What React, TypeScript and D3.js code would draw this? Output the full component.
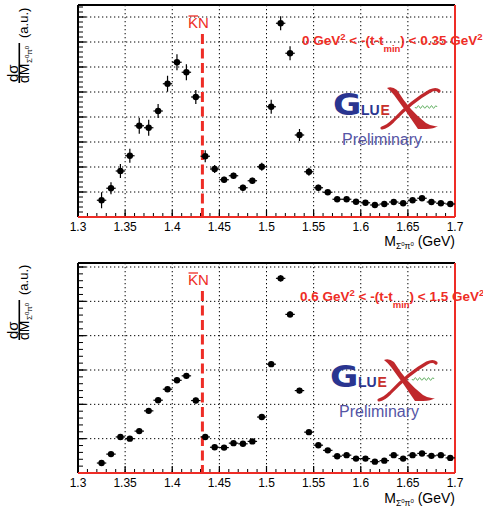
import React from "react";
import * as d3 from "d3";

const masses = [1.325,1.335,1.345,1.355,1.365,1.375,1.385,1.395,1.405,1.415,1.425,1.435,1.445,1.455,1.465,1.475,1.485,1.495,1.505,1.515,1.525,1.535,1.545,1.555,1.565,1.575,1.585,1.595,1.605,1.615,1.625,1.635,1.645,1.655,1.665,1.675,1.685,1.695];
const lowTValues = [0.67,1.15,1.84,2.45,3.65,3.57,4.24,5.33,6.19,5.79,4.80,2.43,1.92,1.49,1.65,1.17,1.45,2.01,4.41,7.75,6.55,3.28,1.81,1.17,0.99,0.71,0.71,0.61,0.57,0.48,0.52,0.60,0.55,0.67,0.75,0.60,0.55,0.52];
const lowTErrors = [0.32,0.24,0.28,0.28,0.32,0.32,0.28,0.32,0.32,0.32,0.28,0.24,0.16,0.12,0.12,0.12,0.12,0.16,0.28,0.28,0.28,0.24,0.16,0.12,0.08,0.08,0.08,0.08,0.08,0.08,0.08,0.08,0.08,0.08,0.08,0.08,0.08,0.08];
const highTValues = [0.29,0.55,1.05,1.00,1.22,1.81,2.12,2.44,2.70,2.83,2.11,1.05,0.75,0.74,0.87,0.85,0.92,1.63,3.17,5.67,4.62,2.40,1.19,0.81,0.66,0.49,0.52,0.42,0.42,0.33,0.36,0.52,0.42,0.52,0.57,0.50,0.52,0.44];
const highTErrors = [0.06,0.06,0.07,0.07,0.07,0.08,0.08,0.08,0.08,0.08,0.08,0.07,0.06,0.06,0.06,0.06,0.06,0.07,0.08,0.09,0.09,0.08,0.06,0.06,0.05,0.05,0.05,0.05,0.05,0.05,0.05,0.05,0.05,0.05,0.05,0.05,0.05,0.05];
const xTicks = [1.3,1.35,1.4,1.45,1.5,1.55,1.6,1.65,1.7];
const binWidth = 0.01;
const kNThreshold = 1.432;

const RED = "#ee2d26";
const FONT = "'Liberation Sans', Arial, Helvetica, sans-serif";

const xScale = d3.scaleLinear().domain([1.3, 1.7]).range([78, 455]);

function GlueXLogo({ x, y }: { x: number; y: number }) {
  const wave: [number, number][] = [];
  for (let i = 0; i <= 44; i++) {
    const t = i / 44;
    wave.push([82 + t * 22, -8 + Math.sin(t * Math.PI * 10) * 1.3]);
  }
  return (
    <g transform={`translate(${x},${y})`}>
      <text x={0} y={0} fontFamily="'DejaVu Sans', sans-serif" fontWeight="bold" fontSize={30} fill="#2a3590" transform="scale(1.15,1)">G</text>
      <text x={28} y={0} fontFamily={FONT} fontWeight="bold" fontSize={14} fill="#2a3590">LU</text>
      <text x={47.5} y={0} fontFamily={FONT} fontWeight="bold" fontSize={14} fill="#c8302c">E</text>
      <path d="M 54 -27 Q 59 -29 64 -25 Q 77 -4 93 8 Q 99 12 105 11 Q 101 14 93 14 L 85 14 Q 73 -4 61 -20 Q 58 -24 54 -27 Z" fill="#c0282c" />
      <path d="M 49 13 Q 54 12 60 6 Q 79 -14 97 -24 Q 103 -27 106 -24" fill="none" stroke="#c0282c" strokeWidth={3.2} strokeLinecap="round" />
      <path d={d3.line()(wave) || ""} fill="none" stroke="#3a9a3a" strokeWidth={0.8} />
      <text x={9} y={30} fontFamily={FONT} fontSize={16} fill="#5555a5">Preliminary</text>
    </g>
  );
}

function Panel({ values, errors, yMax, yTop, bottom, top, frameTop, lowLabel, highLabel, titleBaseline, labelBaseline }: any) {
  const yScale = d3.scaleLinear().domain([0, yMax]).range([bottom, top]);
  const yFrameMax = yScale.invert(frameTop);
  const majorY = d3.range(0, Math.floor(yFrameMax) + 1);
  const minorY = d3.range(0, yFrameMax, 0.2);
  const minorX = d3.range(1.3, 1.7001, 0.01);
  const x0 = xScale(1.3), x1 = xScale(1.7);
  const threshX = xScale(kNThreshold);
  return (
    <g>
      {xTicks.slice(1, -1).map((t) => (
        <line key={"gx" + t} x1={xScale(t)} x2={xScale(t)} y1={frameTop} y2={bottom} stroke="#000" strokeWidth={1} strokeDasharray="1.3 2.7" />
      ))}
      {majorY.slice(1).map((t) => (
        <line key={"gy" + t} x1={x0} x2={x1} y1={yScale(t)} y2={yScale(t)} stroke="#000" strokeWidth={1} strokeDasharray="1.3 2.7" />
      ))}
      {minorY.map((t, i) => (
        <line key={"my" + i} x1={x0} x2={x0 + 5} y1={yScale(t)} y2={yScale(t)} stroke="#000" strokeWidth={1} />
      ))}
      {majorY.map((t) => (
        <line key={"My" + t} x1={x0} x2={x0 + 8} y1={yScale(t)} y2={yScale(t)} stroke="#000" strokeWidth={1.2} />
      ))}
      {minorX.map((t, i) => (
        <line key={"mx" + i} x1={xScale(t)} x2={xScale(t)} y1={bottom} y2={bottom - 4} stroke="#000" strokeWidth={1} />
      ))}
      {xTicks.map((t) => (
        <line key={"Mx" + t} x1={xScale(t)} x2={xScale(t)} y1={bottom} y2={bottom - 7} stroke="#000" strokeWidth={1.2} />
      ))}
      <line x1={x0} x2={x0} y1={frameTop} y2={bottom} stroke="#000" strokeWidth={2} />
      <line x1={x0} x2={x1} y1={frameTop} y2={frameTop} stroke="#000" strokeWidth={2} />
      <line x1={x1} x2={x1} y1={frameTop} y2={bottom} stroke={RED} strokeWidth={2} />
      <line x1={x0} x2={x1} y1={bottom} y2={bottom} stroke={RED} strokeWidth={2} />
      {xTicks.map((t) => (
        <text key={"lx" + t} x={xScale(t)} y={labelBaseline} textAnchor="middle" fontFamily={FONT} fontSize={12}>{String(t)}</text>
      ))}
      <text x={x1} y={titleBaseline} textAnchor="end" fontFamily={FONT} fontSize={14}>
        M<tspan fontSize={8.5} dy={3}>Σ</tspan><tspan fontSize={6} dy={-3}>0</tspan><tspan fontSize={8.5} dy={3}>π</tspan><tspan fontSize={6} dy={-3}>0</tspan><tspan> (GeV)</tspan>
      </text>
      <g transform={`translate(0,${yTop}) rotate(-90)`} fontFamily={FONT}>
        <text x={1} y={17.5} fontSize={15}>dσ</text>
        <line x1={0} x2={40} y1={19.3} y2={19.3} stroke="#000" strokeWidth={1.6} />
        <text x={0} y={29} fontSize={14}>dM</text>
        <text x={20} y={32} fontSize={8}>Σ<tspan fontSize={6} dy={-3}>0</tspan><tspan fontSize={8} dy={3}>π</tspan><tspan fontSize={6} dy={-3}>0</tspan></text>
        <text x={45} y={28} fontSize={13}>(a.u.)</text>
      </g>
      <line x1={threshX} x2={threshX} y1={lowLabel + 6} y2={bottom} stroke={RED} strokeWidth={3} strokeDasharray="10 4.5" />
      <text x={188} y={lowLabel} fontFamily={FONT} fontSize={15} fill={RED}>KN</text>
      <line x1={188.5} x2={198} y1={lowLabel - 12} y2={lowLabel - 12} stroke={RED} strokeWidth={1.3} />
      {values.map((v: number, i: number) => {
        const cx = xScale(masses[i]);
        const cy = yScale(v);
        return (
          <g key={"p" + i}>
            <line x1={xScale(masses[i] - binWidth / 2)} x2={xScale(masses[i] + binWidth / 2)} y1={cy} y2={cy} stroke="#000" strokeWidth={1.2} />
            <line x1={cx} x2={cx} y1={yScale(v - errors[i])} y2={yScale(v + errors[i])} stroke="#000" strokeWidth={1.2} />
            <circle cx={cx} cy={cy} r={3.2} fill="#000" />
          </g>
        );
      })}
      <text x={highLabel.x} y={highLabel.y} fontFamily={FONT} fontWeight="bold" fontSize={13.5} fill={RED}>
        {highLabel.a}<tspan fontSize={9.5} dy={-5}>2</tspan><tspan dy={5}> &lt; -(t-t</tspan><tspan fontSize={9.5} dy={7}>min</tspan><tspan dy={-7}>) &lt; {highLabel.b}</tspan><tspan fontSize={9.5} dy={-5}>2</tspan>
      </text>
    </g>
  );
}

export default function App() {
  return (
    <svg width={483} height={510} style={{ position: "absolute", left: 0, top: 0, background: "#fff" }}>
      <rect width={483} height={510} fill="#fff" />
      <Panel values={lowTValues} errors={lowTErrors} yMax={8} yTop={83} bottom={217} top={17} frameTop={5} lowLabel={28}
        highLabel={{ x: 302, y: 45, a: "0 GeV", b: "0.35 GeV" }} titleBaseline={246} labelBaseline={230.5} />
      <Panel values={highTValues} errors={highTErrors} yMax={6} yTop={340} bottom={473} top={267} frameTop={263} lowLabel={285}
        highLabel={{ x: 300, y: 301, a: "0.6 GeV", b: "1.5 GeV" }} titleBaseline={502.5} labelBaseline={487} />
      <GlueXLogo x={333} y={115} />
      <GlueXLogo x={330} y={387} />
    </svg>
  );
}
